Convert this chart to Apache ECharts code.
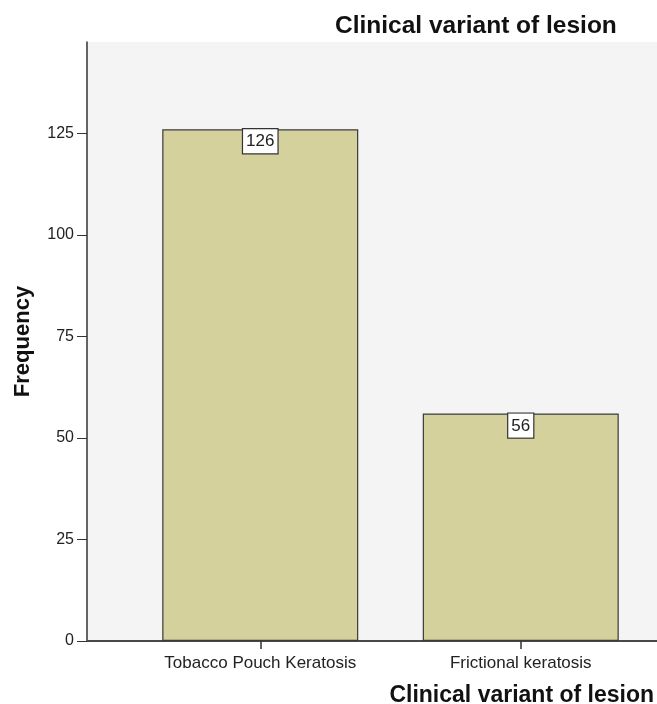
<!DOCTYPE html>
<html><head><meta charset="utf-8">
<script src="https://cdn.jsdelivr.net/npm/echarts@6/dist/echarts.min.js"></script>
<style>html,body{margin:0;padding:0;background:#fff}#c{width:657px;height:704px}</style>
</head><body><div id="c"></div>
<script>
const categories = ['Tobacco Pouch Keratosis', 'Frictional keratosis'];
const frequency = [126, 56];
const yTicks = [0, 25, 50, 75, 100, 125];

const chart = echarts.init(document.getElementById('c'));
const F = 'Arial, "Liberation Sans", sans-serif';
chart.setOption({
  animation: false,
  title: {
    text: 'Clinical variant of lesion',
    left: 330, top: 9,
    textStyle: {fontFamily: F, fontWeight: 'bold', fontSize: 24.5, color: '#111'}
  },
  grid: [
    {left: 130, right: 6, top: 42, bottom: 63, outerBoundsMode: 'none', containLabel: false},
    {left: 87, right: 0, top: 42, bottom: 63, outerBoundsMode: 'none', containLabel: false, show: true, backgroundColor: '#f4f4f4', borderWidth: 0, z: 0}
  ],
  xAxis: [
    {
      type: 'category', data: categories, gridIndex: 0, z: 5,
      axisLine: {show: false},
      axisTick: {show: true, interval: 0, inside: false, alignWithLabel: true, length: 8, lineStyle: {color: '#333', width: 1.5}},
      axisLabel: {fontFamily: F, fontSize: 17, color: '#222', margin: 14},
      name: 'Clinical variant of lesion', nameLocation: 'end',
      nameTextStyle: {fontFamily: F, fontWeight: 'bold', fontSize: 23, color: '#111', align: 'right', verticalAlign: 'top', padding: [43, 0, 0, 0]},
      nameGap: 3
    },
    {
      type: 'value', gridIndex: 1, position: 'top', min: 0, max: 1,
      axisLine: {show: true, lineStyle: {color: '#888', width: 2}},
      axisTick: {show: false}, axisLabel: {show: false}, splitLine: {show: false}
    },
    {
      type: 'value', gridIndex: 1, position: 'bottom', min: 0, max: 1,
      axisLine: {show: true, lineStyle: {color: '#333', width: 1.5}},
      axisTick: {show: false}, axisLabel: {show: false}, splitLine: {show: false}
    }
  ],
  yAxis: [
    {
      type: 'value', gridIndex: 0, min: 0, max: 147.5, offset: 43,
      axisLine: {show: true, lineStyle: {color: '#333', width: 1.5}},
      axisTick: {show: true, length: 10, customValues: yTicks, lineStyle: {color: '#333'}},
      axisLabel: {fontFamily: F, fontSize: 16, color: '#222', margin: 13, customValues: yTicks},
      splitLine: {show: false},
      name: 'Frequency', nameLocation: 'middle', nameGap: 53, nameRotate: 90,
      nameTextStyle: {fontFamily: F, fontWeight: 'bold', fontSize: 22, color: '#111'}
    },
    {
      type: 'value', gridIndex: 1, min: 0, max: 1, show: false
    }
  ],
  series: [{
    type: 'bar', xAxisIndex: 0, yAxisIndex: 0, data: frequency, barWidth: 196, z: 3,
    itemStyle: {color: '#d5d19d', borderColor: '#3a3a3a', borderWidth: 1.2},
    label: {
      show: true, position: 'insideTop', distance: 0,
      fontFamily: F, fontSize: 17, color: '#222',
      backgroundColor: '#fff', borderColor: '#333', borderWidth: 1.2, padding: [4, 3, 3, 3]
    }
  }]
});
</script></body></html>
